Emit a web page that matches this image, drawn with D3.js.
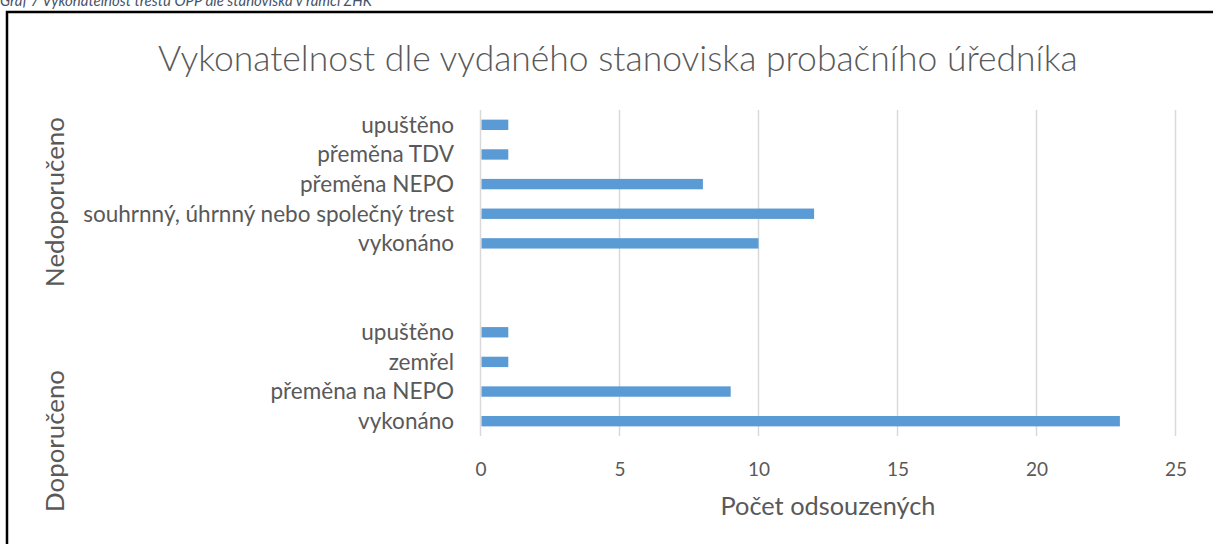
<!DOCTYPE html>
<html>
<head>
<meta charset="utf-8">
<script src="https://cdn.jsdelivr.net/npm/d3@7"></script>
<style>
  html, body { margin: 0; padding: 0; background: #fff; }
  svg { display: block; }
</style>
</head>
<body>
<svg id="chart" width="1213" height="544"></svg>
<script>
// ---- data ----
const groups = ["Nedoporučeno", "Doporučeno"];
const categories = [
  "upuštěno", "přeměna TDV", "přeměna NEPO", "souhrnný, úhrnný nebo společný trest", "vykonáno",
  "", "",
  "upuštěno", "zemřel", "přeměna na NEPO", "vykonáno"
];
const categoryGroup = [0, 0, 0, 0, 0, null, null, 1, 1, 1, 1];
const values = [1, 1, 8, 12, 10, null, null, 1, 1, 9, 23];
const xTicks = [0, 5, 10, 15, 20, 25];
const title = "Vykonatelnost dle vydaného stanoviska probačního úředníka";
const caption = "Graf 7 Vykonatelnost trestu OPP dle stanoviska v rámci ZHK";
const xTitle = "Počet odsouzených";

// ---- layout ----
const W = 1213, H = 544;
const plot = { left: 480.5, right: 1175.5, top: 110, bottom: 436 };
const textColor = "#595959";
const barColor = "#5B9BD5";
const gridColor = "#D9D9D9";
const font = "Lato, 'Open Sans', sans-serif";

const svg = d3.select("#chart");
svg.append("rect").attr("width", W).attr("height", H).attr("fill", "#fff");

function fitText(sel, targetWidth, startSize) {
  sel.style("font-size", startSize + "px");
  const w = sel.node().getComputedTextLength();
  const s = startSize * targetWidth / w;
  sel.style("font-size", s + "px");
  return s;
}

// caption (partly above the top edge, as in the source)
svg.append("text")
  .attr("x", 0).attr("y", 6)
  .attr("fill", "#44546A")
  .attr("textLength", 372)
  .attr("lengthAdjust", "spacingAndGlyphs")
  .style("font-family", font)
  .style("font-style", "italic")
  .style("font-size", "15px")
  .text(caption);

// frame
svg.append("rect")
  .attr("x", 7).attr("y", 12)
  .attr("width", W + 10).attr("height", H + 10)
  .attr("fill", "none").attr("stroke", "#000").attr("stroke-width", 2.5);

// title
const t = svg.append("text")
  .attr("x", 158).attr("y", 71)
  .attr("fill", textColor)
  .style("font-family", font)
  .style("font-weight", 300)
  .text(title);
fitText(t, 920, 30);

// scales
const x = d3.scaleLinear().domain([0, 25]).range([plot.left, plot.right]);
const y = d3.scaleBand().domain(d3.range(categories.length)).range([plot.top, plot.bottom]).padding(0);
const barH = y.step() * 0.35;

// gridlines
svg.append("g").selectAll("line").data(xTicks).join("line")
  .attr("x1", d => x(d)).attr("x2", d => x(d))
  .attr("y1", plot.top).attr("y2", plot.bottom)
  .attr("stroke", gridColor).attr("stroke-width", 1.5);

// x axis tick labels
const xAxis = d3.axisBottom(x).tickValues(xTicks).tickSize(0).tickPadding(0);
const gx = svg.append("g").attr("transform", `translate(0, 460)`).call(xAxis);
gx.select(".domain").remove();
gx.selectAll("text")
  .attr("fill", textColor)
  .style("font-family", font)
  .style("font-size", "19px")
  .attr("dy", "0.85em");

// x title
const xt = svg.append("text")
  .attr("x", (plot.left + plot.right) / 2).attr("y", 515)
  .attr("text-anchor", "middle")
  .attr("fill", textColor)
  .style("font-family", font)
  .text(xTitle);
fitText(xt, 215, 19);

// bars
svg.append("g").selectAll("rect")
  .data(values.map((v, i) => ({ v, i })).filter(d => d.v != null))
  .join("rect")
  .attr("x", x(0) + 1)
  .attr("y", d => y(d.i) + y.bandwidth() / 2 - barH / 2)
  .attr("width", d => x(d.v) - x(0) - 1)
  .attr("height", barH)
  .attr("fill", barColor);

// category labels
const catG = svg.append("g");
const cats = catG.selectAll("text")
  .data(categories.map((c, i) => ({ c, i })).filter(d => d.c))
  .join("text")
  .attr("x", 454)
  .attr("y", d => y(d.i) + y.bandwidth() / 2)
  .attr("dy", "0.35em")
  .attr("text-anchor", "end")
  .attr("fill", textColor)
  .style("font-family", font)
  .text(d => d.c);
const longest = cats.filter(d => d.i === 3);
const catSize = fitText(longest, 371, 16);
cats.style("font-size", catSize + "px");

// group labels (rotated)
const groupPos = [{ cx: 57, cy: 202, w: 170 }, { cx: 57, cy: 441, w: 138 }];
let gSize = null;
groups.forEach((g, gi) => {
  const p = groupPos[gi];
  const txt = svg.append("text")
    .attr("transform", `translate(${p.cx + 7},${p.cy}) rotate(-90)`)
    .attr("text-anchor", "middle")
    .attr("fill", textColor)
    .style("font-family", font)
    .text(g);
  if (gSize === null) gSize = fitText(txt, p.w, 20);
  else txt.style("font-size", gSize + "px");
});
</script>
</body>
</html>
